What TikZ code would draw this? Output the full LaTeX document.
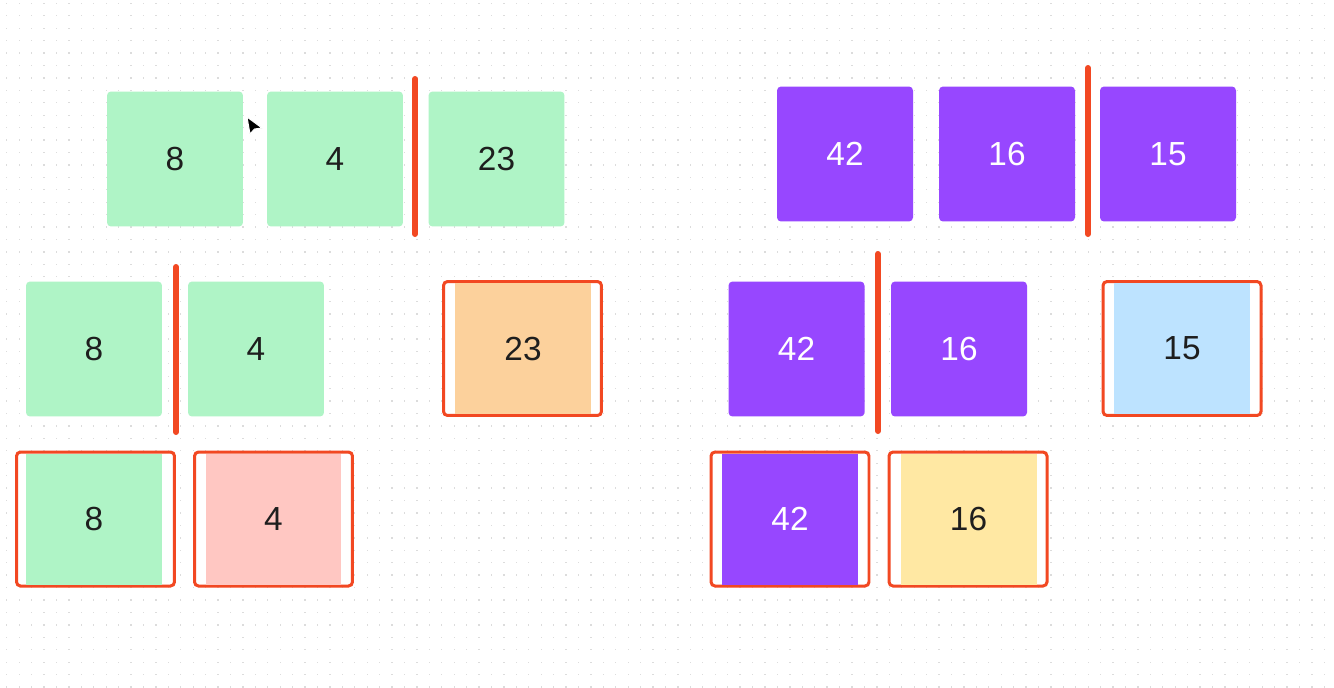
\documentclass[tikz,border=0pt]{standalone}
\usepackage{fontspec}
\setmainfont{Liberation Sans}
\definecolor{mint}{HTML}{AFF4C6}
\definecolor{grape}{HTML}{9747FF}
\definecolor{peach}{HTML}{FCD19C}
\definecolor{blush}{HTML}{FFC7C2}
\definecolor{sky}{HTML}{BDE3FF}
\definecolor{butter}{HTML}{FFE8A3}
\definecolor{cut}{HTML}{F24822}
\definecolor{ink}{HTML}{1E1E1E}
\definecolor{dotgray}{HTML}{DCDCDC}
\begin{document}
\begin{tikzpicture}[x=0.02cm, y=-0.02cm,
        tile/.style={rectangle, rounded corners=0.08cm, minimum width=2.72cm, minimum height=2.7cm, inner sep=0pt, font=\fontsize{19}{21}\selectfont, text=ink},
        green/.style={tile, fill=mint},
        violet/.style={tile, fill=grape, text=white},
        picked/.style={rectangle, rounded corners=0.08cm, draw=cut, line width=0.06cm, fill=white, minimum width=3.16cm, minimum height=2.68cm},
        inframe/.style={minimum height=2.62cm, rounded corners=0pt},
        bar/.style={draw=cut, line width=0.12cm, line cap=round}]
    \useasboundingbox (0, 0) rectangle (1334, 687);
    \fill [white] (0, 0) rectangle (1334, 687);
    % dotted canvas
    \foreach \i in {0,...,106}
        \foreach \j in {0,...,55}
            \fill [dotgray] (6.1 + 12.43*\i, 2.7 + 12.43*\j) rectangle +(1.3, 1.3);
    % first split: 8 4 | 23
    \node [green] (a8) at (175, 159) {8};
    \node [green] (a4) at (335, 159) {4};
    \node [green] (a23) at (496.5, 159) {23};
    \coordinate (cutAtop) at (415, 79);
    \coordinate (cutAbot) at (415, 234);
    \draw [bar] (cutAtop) -- (cutAbot);
    % second split: 8 | 4
    \node [green] (b8) at (94, 349) {8};
    \node [green] (b4) at (256, 349) {4};
    \coordinate (cutBtop) at (176, 267);
    \coordinate (cutBbot) at (176, 432);
    \draw [bar] (cutBtop) -- (cutBbot);
    \node [picked] (f23) at (522.5, 348.5) {};
    \node [tile, inframe, fill=peach] (c23) at (523, 348.5) {23};
    % leaves on the left
    \node [picked] (f8) at (95.5, 519) {};
    \node [tile, inframe, fill=mint] (c8) at (94, 519) {8};
    \node [picked] (f4) at (273.5, 519) {};
    \node [tile, inframe, fill=blush] (c4) at (273.5, 519) {4};
    % first split: 42 16 | 15
    \node [violet] (a42) at (845, 154) {42};
    \node [violet] (a16) at (1007, 154) {16};
    \node [violet] (a15) at (1168, 154) {15};
    \coordinate (cutCtop) at (1088, 68);
    \coordinate (cutCbot) at (1088, 234);
    \draw [bar] (cutCtop) -- (cutCbot);
    % second split: 42 | 16
    \node [violet] (b42) at (796.5, 349) {42};
    \node [violet] (b16) at (959, 349) {16};
    \coordinate (cutDtop) at (878, 254);
    \coordinate (cutDbot) at (878, 431);
    \draw [bar] (cutDtop) -- (cutDbot);
    \node [picked] (f15) at (1182, 348.5) {};
    \node [tile, inframe, fill=sky] (c15) at (1182, 348.5) {15};
    % leaves on the right
    \node [picked] (f42) at (790, 519) {};
    \node [tile, inframe, fill=grape, text=white] (c42) at (790, 519) {42};
    \node [picked] (f16) at (968, 519) {};
    \node [tile, inframe, fill=butter] (c16) at (968.5, 519) {16};
    % mouse pointer
    \filldraw [fill=black, draw=white, line width=0.02cm, line join=round]
        (247, 117) -- (250, 134) -- (254.5, 129) -- (262, 128) -- cycle;
\end{tikzpicture}
\end{document}
